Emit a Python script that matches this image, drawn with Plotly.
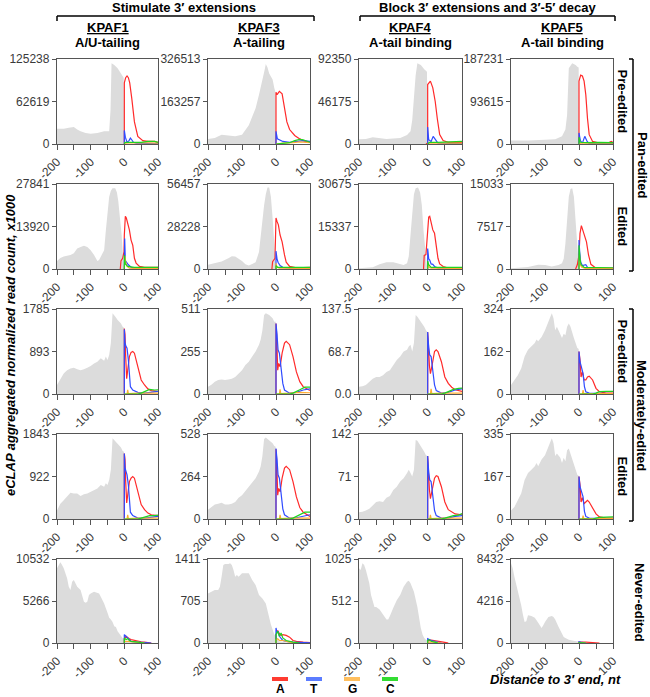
import plotly.graph_objects as go

# ---------------- data (values read as % of each panel's top tick) ----------------
COLUMNS = ["KPAF1", "KPAF3", "KPAF4", "KPAF5"]
COLUMN_ROLES = ["A/U-tailing", "A-tailing", "A-tail binding", "A-tail binding"]
GROUPS = ["Stimulate 3′ extensions", "Block 3′ extensions and 3′-5′ decay"]
ROW_LABELS = ["Pre-edited", "Edited", "Pre-edited", "Edited", "Never-edited"]
ROW_GROUPS = ["Pan-edited", "Moderately-edited"]
NUCLEOTIDES = ["A", "T", "G", "C"]
X_TICKS = [-200, -150, -100, -50, 0, 50, 100]
X_TICK_TEXT = ["-200", "", "-100", "", "0", "", "100"]

# y tick labels per panel (top, middle, zero)
YT_R1 = [("125238", "62619", "0"), ("326513", "163257", "0"), ("92350", "46175", "0"), ("187231", "93615", "0")]
YT_R2 = [("27841", "13920", "0"), ("56457", "28228", "0"), ("30675", "15337", "0"), ("15033", "7517", "0")]
YT_R3 = [("1785", "893", "0"), ("511", "255", "0"), ("137.5", "68.7", "0.0"), ("324", "162", "0")]
YT_R4 = [("1843", "922", "0"), ("528", "264", "0"), ("142", "71", "0"), ("335", "167", "0")]
YT_R5 = [("10532", "5266", "0"), ("1411", "705", "0"), ("1025", "512", "0"), ("8432", "4216", "0")]

# ---- row 1: pan-edited, pre-edited ----
P11_GREY = [(-200,18),(-180,18),(-165,19),(-150,20),(-140,17),(-130,15),(-115,13),(-100,12),(-80,13),(-60,15),(-45,15),(-41,40),(-38,95),(-30,93),(-20,89),(-10,83),(-2,78),(0,0)]
P11_A = [(0,0),(0,72),(4,78),(8,80),(12,78),(16,72),(22,54),(30,26),(40,9),(55,4),(70,3),(90,3),(100,2)]
P11_T = [(0,0),(0,16),(3,8),(8,2),(14,4),(18,7),(22,5),(27,2),(35,1),(60,1),(100,0.5)]
P11_G = [(0,0),(2,1),(30,1.5),(60,1.5),(100,1)]
P11_C = [(0,0),(2,2),(20,2),(50,2),(70,3),(90,3),(100,2)]

P12_GREY = [(-200,6),(-180,7),(-160,11),(-140,10),(-120,9),(-100,11),(-90,17),(-80,22),(-70,32),(-60,42),(-50,58),(-40,74),(-33,88),(-30,94),(-25,90),(-20,83),(-10,76),(-5,66),(-1,60),(0,0)]
P12_A = [(0,0),(0,61),(3,58),(10,62),(18,59),(25,42),(32,26),(40,17),(55,10),(70,6),(85,3),(100,2)]
P12_T = [(0,0),(0,15),(4,6),(10,5),(20,3),(40,2),(60,3),(80,4),(100,3)]
P12_G = [(0,0),(20,1),(50,1.5),(70,2.5),(90,2),(100,1.5)]
P12_C = [(0,0),(20,1),(40,1.5),(55,4),(70,5.5),(80,5),(100,2)]

P13_GREY = [(-200,5.5),(-180,6),(-160,8),(-140,7),(-120,6),(-100,6.5),(-80,7),(-60,10.5),(-50,15),(-45,28),(-40,54),(-35,81),(-30,95),(-20,93),(-10,88),(-2,85),(0,0)]
P13_A = [(-5,0),(0,1),(0,70),(3,72),(8,74),(15,66),(22,50),(28,30),(35,11),(45,4),(60,2),(100,2)]
P13_T = [(0,0),(0,20),(3,5),(10,3),(16,9),(22,5),(30,1),(60,0.5),(100,0.5)]
P13_G = [(0,0),(5,1),(50,1),(100,1)]
P13_C = [(0,0),(5,2),(30,2),(60,2.5),(100,3)]

P14_GREY = [(-200,4),(-150,4),(-100,5),(-70,5.5),(-50,9),(-40,17),(-35,34),(-30,89),(-20,95),(-10,93),(-5,91),(-1,90),(0,0)]
P14_A = [(0,0),(0,74),(5,81),(10,80),(15,74),(20,58),(25,30),(30,11),(40,3),(60,1),(85,1),(95,3),(100,2)]
P14_T = [(0,0),(0,13),(4,4),(10,1),(17,9),(24,3),(30,0.5),(100,0.5)]
P14_G = [(0,0),(5,1),(100,1)]
P14_C = [(0,0),(0,8),(4,2),(20,1.5),(60,2),(100,1.5)]

# ---- row 2: pan-edited, edited ----
P21_GREY = [(-200,9.5),(-190,13),(-180,14.6),(-160,16.5),(-150,18.5),(-140,24),(-130,26),(-120,27.5),(-110,26),(-100,22),(-90,16.5),(-80,9.5),(-75,10.6),(-70,14),(-60,22),(-55,45),(-50,70),(-45,85),(-40,92),(-35,95),(-27,95),(-22,90),(-18,80),(-12,60),(-8,40),(-4,15),(0,0)]
P21_A = [(-12,0),(-10,9.5),(-5,12.6),(-1,20),(0,40),(3,62),(6,60),(10,54),(15,46),(20,34),(25,28),(30,12.6),(35,7),(45,3),(60,2),(100,2)]
P21_T = [(0,0),(1,36),(3,10),(6,8),(12,5),(20,2),(30,1),(60,0.5),(100,0.5)]
P21_G = [(0,0),(2,15),(4,8),(8,3),(15,1),(40,0.5),(100,0.5)]
P21_C = [(0,0),(0,16.5),(3,6),(10,3),(30,2),(60,2),(100,2)]

P22_GREY = [(-200,5),(-180,6.7),(-160,8.7),(-140,12.6),(-130,15),(-120,14.6),(-110,12),(-100,9.5),(-90,5.5),(-80,4),(-70,6),(-60,8),(-50,20),(-45,40),(-40,60),(-35,75),(-30,88),(-25,96),(-20,96),(-15,85),(-10,60),(-5,25),(0,0)]
P22_A = [(-12,0),(-10,8.7),(-3,12.6),(0,60),(3,56),(7,52),(12,40),(18,32),(25,16.5),(30,8),(40,3),(60,1.5),(100,2)]
P22_T = [(0,0),(0,21),(3,12),(6,8),(12,4),(20,2),(40,1),(100,1)]
P22_G = [(0,0),(0,6.7),(3,2),(10,1),(100,0.5)]
P22_C = [(0,0),(0,4),(5,2),(40,2),(70,2),(100,2)]

P23_GREY = [(-200,1),(-160,2),(-140,5.5),(-120,8),(-100,8),(-80,5.5),(-70,4.7),(-60,6.7),(-55,15),(-50,40),(-45,70),(-40,88),(-35,95),(-28,96),(-22,90),(-17,75),(-12,45),(-7,20),(-3,6),(0,0)]
P23_A = [(-12,0),(-10,16),(-5,17),(0,48),(3,61),(6,62),(10,56),(15,46),(20,42),(25,28),(30,12.6),(35,6),(45,3),(60,1),(100,1)]
P23_T = [(0,0),(0,24),(3,12),(6,10.6),(10,6),(15,5.5),(20,3),(30,1),(100,0.5)]
P23_G = [(0,0),(1,5),(4,2),(10,1),(100,0.5)]
P23_C = [(0,0),(0,9.5),(3,5),(10,2),(30,2),(100,2)]

P24_GREY = [(-200,1),(-150,2.5),(-120,5),(-100,4.7),(-80,3),(-60,4.7),(-50,6.7),(-45,12),(-40,30),(-35,65),(-30,85),(-25,94),(-20,95),(-15,85),(-10,60),(-5,30),(-2,12),(0,0)]
P24_A = [(-10,0),(-5,5),(0,16.5),(3,42),(7,51),(12,45),(18,38),(22,32),(28,16.5),(35,5.5),(50,1),(100,1)]
P24_T = [(0,0),(0,34),(2,20),(5,8),(10,4),(20,5),(25,2),(40,0.5),(100,0.5)]
P24_G = [(0,0),(1,16.5),(4,5),(8,2),(20,0.5),(100,0.5)]
P24_C = [(0,0),(0,28),(3,12),(6,5),(15,2),(50,1.5),(100,1.5)]

# ---- row 3: moderately-edited, pre-edited ----
P31_GREY = [(-200,10.6),(-190,18),(-180,24),(-170,28),(-160,30),(-150,31),(-140,29),(-130,28),(-120,29),(-110,31),(-100,33),(-90,36),(-80,38),(-70,42),(-60,39),(-55,44),(-50,40),(-45,46),(-40,60),(-35,95),(-30,93),(-25,90),(-20,87),(-15,85),(-10,83),(-5,79),(-1,78),(0,0)]
P31_A = [(0,0),(0,77),(2,70),(4,44),(7,18),(10,28),(15,44),(20,49),(25,50),(30,48),(35,40),(40,30),(50,16.5),(60,10.6),(70,6),(80,4),(100,3)]
P31_T = [(0,0),(0,76),(2,60),(5,56),(8,54),(12,40),(15,22),(18,8.6),(25,4.7),(40,2),(60,1),(80,2),(100,3)]
P31_G = [(0,0),(8,0),(10,5),(12,0.5),(40,1),(100,1)]
P31_C = [(0,0),(40,0),(50,1),(60,3),(75,5.5),(90,4.7),(100,5)]

P32_GREY = [(-200,8.6),(-190,11),(-180,14.5),(-170,16.5),(-160,17),(-150,16.5),(-140,17),(-130,18),(-120,20),(-110,24),(-100,28),(-90,34),(-80,38),(-70,44),(-60,50),(-50,58),(-45,64),(-40,75),(-35,93),(-30,95),(-20,93),(-10,89),(-5,85),(-1,85),(0,0)]
P32_A = [(0,0),(0,83),(2,70),(5,28),(8,36),(12,32),(18,48),(25,60),(30,62),(40,58),(50,44),(60,26),(70,14.5),(80,8.6),(90,6),(100,4)]
P32_T = [(0,0),(0,83),(3,70),(6,52),(10,48),(15,32),(20,12.5),(25,4.7),(40,1),(60,2),(80,4.7),(100,6)]
P32_G = [(0,0),(10,0),(12,5.5),(14,0.5),(40,1),(70,2),(100,1.5)]
P32_C = [(0,0),(40,0),(50,1),(60,2.7),(70,5),(85,8),(100,8)]

P33_GREY = [(-200,8.6),(-190,9),(-180,10.6),(-170,14.5),(-160,18),(-150,20),(-140,20),(-130,22),(-120,26),(-110,28),(-100,34),(-90,40),(-80,44),(-70,50),(-60,52),(-55,56),(-50,58),(-45,50),(-40,60),(-35,93),(-30,91),(-25,88),(-20,85),(-15,83),(-10,79),(-5,75),(-1,73),(0,0)]
P33_A = [(0,0),(0,73),(2,60),(5,34),(8,24),(12,32),(16,44),(20,50),(25,52),(30,50),(40,38),(50,20),(60,12.5),(70,8),(80,5),(100,3)]
P33_T = [(0,0),(0,73),(3,55),(6,46),(10,44),(15,28),(20,10.6),(25,4),(40,1),(60,2),(80,4.7),(100,6)]
P33_G = [(0,0),(8,0),(10,6),(12,0.5),(40,1),(100,1)]
P33_C = [(0,0),(40,0),(50,1),(60,2.7),(75,5.5),(90,6.7),(100,7)]

P34_GREY = [(-200,10.6),(-190,16.5),(-180,22),(-170,30),(-160,44),(-150,52),(-140,56),(-130,60),(-125,64),(-120,62),(-110,67),(-100,75),(-90,85),(-80,95),(-75,89),(-70,75),(-65,79),(-60,75),(-55,71),(-50,66),(-45,71),(-40,69),(-35,79),(-30,83),(-25,79),(-20,71),(-15,66),(-10,60),(-5,54),(-1,53),(0,0)]
P34_A = [(0,0),(0,50),(3,40),(6,20),(10,26),(15,16.5),(20,16.5),(25,20),(30,21),(40,16.5),(50,6.7),(60,2.7),(80,1),(100,1)]
P34_T = [(0,0),(0,50),(3,38),(7,32),(12,24),(16,8.6),(20,2.7),(30,1),(100,0.5)]
P34_G = [(0,0),(10,0),(12,4.7),(14,0.5),(100,0.5)]
P34_C = [(0,0),(40,0),(50,1),(60,2.7),(80,3),(100,3)]

# ---- row 4: moderately-edited, edited ----
P41_GREY = [(-200,10),(-190,18),(-180,22),(-170,27),(-160,31),(-150,30),(-140,30),(-130,27),(-120,29),(-110,30),(-100,32),(-90,34),(-80,36),(-70,40),(-60,38),(-55,42),(-50,40),(-45,46),(-40,58),(-35,95),(-30,93),(-20,88),(-10,84),(-5,80),(-1,79),(0,0)]
P41_A = [(0,0),(0,77),(2,70),(4,44),(7,19),(10,28),(15,44),(20,48),(25,50),(30,48),(35,40),(40,31),(50,17),(60,11),(70,7),(80,5),(100,4)]
P41_T = [(0,0),(0,77),(2,60),(5,56),(8,52),(12,40),(15,22),(18,8),(25,4),(40,1),(60,1),(80,2),(100,3)]
P41_G = [(0,0),(8,0),(10,5),(12,0.5),(40,1),(100,1)]
P41_C = [(0,0),(40,0),(50,1),(60,2.5),(75,4),(90,4),(100,4.5)]

P42_GREY = [(-200,11),(-190,14),(-180,17),(-170,18),(-160,19),(-150,17),(-140,17),(-130,18),(-120,20),(-110,25),(-100,28),(-90,33),(-80,38),(-70,43),(-60,48),(-50,56),(-45,62),(-40,74),(-35,94),(-30,96),(-20,93),(-10,89),(-5,86),(-1,85),(0,0)]
P42_A = [(0,0),(0,82),(2,70),(5,28),(8,36),(12,32),(18,48),(25,60),(30,62),(40,58),(50,44),(60,26),(70,13.5),(80,8),(90,5),(100,3)]
P42_T = [(0,0),(0,83),(3,70),(6,52),(10,48),(15,32),(20,12),(25,5),(40,1),(60,1.5),(80,3),(100,5)]
P42_G = [(0,0),(10,0),(12,5),(14,0.5),(40,1),(100,1)]
P42_C = [(0,0),(40,0),(50,1),(60,3),(70,5),(85,8),(100,8)]

P43_GREY = [(-200,8),(-190,8.5),(-180,10),(-170,12),(-160,16),(-150,20),(-140,21),(-130,20),(-120,25),(-110,27),(-100,34),(-90,38),(-80,44),(-70,48),(-60,54),(-55,58),(-50,54),(-45,50),(-40,58),(-35,93),(-30,92),(-25,89),(-20,86),(-15,83),(-10,79),(-5,75),(-1,74),(0,0)]
P43_A = [(0,0),(0,74),(2,60),(5,35),(8,24),(12,32),(16,43),(20,48),(25,51),(30,50),(40,38),(50,20),(60,11),(70,8),(80,6),(100,5)]
P43_T = [(0,0),(0,74),(3,55),(6,46),(10,44),(15,28),(20,10),(25,4),(40,1),(60,1),(80,3),(100,4)]
P43_G = [(0,0),(6,0),(8,5),(10,0.5),(40,1),(100,1)]
P43_C = [(0,0),(40,0),(50,1),(60,2),(75,4),(90,4.5),(100,6.5)]

P44_GREY = [(-200,10),(-190,14),(-180,22),(-170,30),(-160,46),(-150,54),(-140,58),(-130,62),(-125,66),(-120,62),(-110,70),(-100,75),(-90,85),(-80,95),(-75,89),(-70,74),(-65,77),(-60,75),(-55,72),(-50,66),(-45,72),(-40,68),(-35,81),(-30,83),(-25,77),(-20,70),(-15,64),(-10,58),(-5,52),(-1,51),(0,0)]
P44_A = [(0,0),(0,50),(3,40),(6,20),(10,25),(15,18),(20,20),(25,22),(30,20),(40,13),(50,6),(60,2.5),(80,1),(100,1)]
P44_T = [(0,0),(0,50),(3,38),(7,32),(12,26),(16,9),(20,3),(30,1),(100,0.5)]
P44_G = [(0,0),(10,0),(12,4),(14,0.5),(100,0.5)]
P44_C = [(0,0),(40,0),(50,1),(60,2),(100,2.5)]

# ---- row 5: never-edited ----
P51_GREY = [(-200,89),(-195,93),(-190,96),(-185,93),(-180,89),(-170,77),(-165,67),(-160,63),(-155,73),(-150,75),(-145,71),(-140,67),(-130,63),(-125,57),(-120,49),(-115,48),(-110,49),(-105,57),(-100,59),(-90,61),(-80,60),(-75,59),(-70,55),(-60,47),(-50,36),(-45,30),(-40,28),(-35,25),(-30,20),(-25,19),(-20,14),(-15,11),(-10,8),(-5,5),(0,3),(5,2),(10,1),(20,0.5),(40,0)]
P51_A = [(0,0),(0,5),(5,8),(10,6),(15,5),(20,4),(30,3),(40,2),(50,1.5),(60,1),(70,0.5),(80,0)]
P51_T = [(0,0),(0,10),(5,8),(10,6),(15,3),(20,2),(40,1),(60,0.5),(80,0)]
P51_G = [(0,0),(0,2),(10,2),(30,1.5),(50,0.5),(60,0)]
P51_C = [(0,0),(0,6),(5,4),(10,5),(15,3),(20,2),(40,1),(60,0)]

P52_GREY = [(-200,59),(-190,61),(-180,63),(-170,63),(-165,67),(-160,79),(-155,93),(-150,94),(-140,94),(-135,95),(-130,93),(-125,87),(-120,79),(-115,81),(-110,79),(-100,83),(-90,83),(-80,83),(-70,75),(-60,69),(-50,57),(-40,53),(-30,47),(-25,38),(-20,30),(-15,22),(-10,16),(-5,10),(0,8),(5,4),(10,2),(20,1),(30,0.5),(50,0)]
P52_A = [(0,0),(0,10),(5,15),(10,11),(15,9),(20,10),(30,9),(40,7),(50,3),(60,2),(80,1),(100,0.5)]
P52_T = [(0,0),(0,18),(3,12),(6,14),(10,8),(15,5),(20,3),(30,2),(50,1),(100,0.3)]
P52_G = [(0,0),(0,4),(5,5),(10,3),(20,3),(40,1),(60,0)]
P52_C = [(0,0),(0,10),(5,14),(10,8),(15,12),(20,6),(30,3),(50,1),(70,0)]

P53_GREY = [(-200,89),(-195,87),(-190,95),(-185,93),(-180,87),(-170,71),(-165,57),(-160,49),(-155,43),(-150,43),(-140,40),(-130,34),(-120,28),(-115,28),(-110,32),(-100,42),(-90,51),(-80,57),(-70,67),(-60,73),(-55,74),(-50,71),(-40,61),(-30,43),(-25,30),(-20,18),(-15,10),(-10,6),(-5,4),(0,3),(10,1.5),(30,0.5),(50,0)]
P53_A = [(0,0),(0,3),(10,3.5),(20,3),(30,2.5),(40,2),(50,0.8),(60,0)]
P53_T = [(0,0),(0,5),(5,4),(10,3),(20,2),(30,1),(40,0)]
P53_G = [(0,0),(0,1),(20,1),(40,0)]
P53_C = [(0,0),(0,3),(5,4),(10,2),(20,1),(30,0)]

P54_GREY = [(-200,95),(-195,89),(-190,79),(-180,63),(-170,45),(-165,34),(-160,25),(-155,26),(-150,33),(-140,32),(-130,30),(-120,24),(-110,18),(-105,21),(-100,25),(-90,31),(-80,32),(-75,31),(-70,28),(-60,19),(-50,12),(-45,7),(-40,6),(-30,4),(-20,3),(-10,2),(0,1.5),(20,0.5),(40,0)]
P54_A = [(0,0),(0,1),(20,1),(40,1),(50,0.3),(60,0)]
P54_T = [(0,0),(0,1.5),(5,1),(10,0.5),(20,0)]
P54_G = [(0,0),(0,0.3),(20,0)]
P54_C = [(0,0),(0,0.5),(10,0.3),(20,0)]

PANELS = [
    [(P11_GREY, P11_A, P11_T, P11_G, P11_C), (P12_GREY, P12_A, P12_T, P12_G, P12_C), (P13_GREY, P13_A, P13_T, P13_G, P13_C), (P14_GREY, P14_A, P14_T, P14_G, P14_C)],
    [(P21_GREY, P21_A, P21_T, P21_G, P21_C), (P22_GREY, P22_A, P22_T, P22_G, P22_C), (P23_GREY, P23_A, P23_T, P23_G, P23_C), (P24_GREY, P24_A, P24_T, P24_G, P24_C)],
    [(P31_GREY, P31_A, P31_T, P31_G, P31_C), (P32_GREY, P32_A, P32_T, P32_G, P32_C), (P33_GREY, P33_A, P33_T, P33_G, P33_C), (P34_GREY, P34_A, P34_T, P34_G, P34_C)],
    [(P41_GREY, P41_A, P41_T, P41_G, P41_C), (P42_GREY, P42_A, P42_T, P42_G, P42_C), (P43_GREY, P43_A, P43_T, P43_G, P43_C), (P44_GREY, P44_A, P44_T, P44_G, P44_C)],
    [(P51_GREY, P51_A, P51_T, P51_G, P51_C), (P52_GREY, P52_A, P52_T, P52_G, P52_C), (P53_GREY, P53_A, P53_T, P53_G, P53_C), (P54_GREY, P54_A, P54_T, P54_G, P54_C)],
]
Y_TICKS = [YT_R1, YT_R2, YT_R3, YT_R4, YT_R5]

# ---------------- styling / layout ----------------
W, H = 650, 697
FONT = "Liberation Sans, Arial, sans-serif"
GREY_FILL = "#dcdcdc"
NT_COLORS = {"A": "#ff2a2a", "T": "#2f4bff", "G": "#ffad33", "C": "#1fd41f"}
LEGEND_COLORS = {"A": "#ff3b30", "T": "#5b7cff", "G": "#ffbf5e", "C": "#33dd33"}
AXIS_COLOR = "#555555"
TEXT_COLOR = "#3a3a3a"

COL_PX = [(57, 158), (208, 310), (359, 462), (511, 613)]
ROW_PX = [(59, 144), (184, 269), (309, 394), (434, 519), (559, 643)]


def fx(p):
    return p / W


def fy(p):
    return 1 - p / H


fig = go.Figure()
layout = dict(
    width=W, height=H, margin=dict(l=0, r=0, t=0, b=0, autoexpand=False),
    paper_bgcolor="white", plot_bgcolor="white", showlegend=False,
    font=dict(family=FONT, size=12, color=TEXT_COLOR),
)

idx = 0
for r in range(5):
    for c in range(4):
        idx += 1
        sfx = "" if idx == 1 else str(idx)
        xa, ya = "x" + sfx, "y" + sfx
        grey, *lines = PANELS[r][c]
        fig.add_trace(go.Scatter(
            x=[p[0] for p in grey], y=[p[1] for p in grey], mode="lines",
            fill="tozeroy", fillcolor=GREY_FILL, line=dict(width=0, color=GREY_FILL),
            xaxis=xa, yaxis=ya, hoverinfo="skip"))
        for nt, series in zip(NUCLEOTIDES, lines):
            fig.add_trace(go.Scatter(
                x=[p[0] for p in series], y=[p[1] for p in series], mode="lines",
                line=dict(width=1.2, color=NT_COLORS[nt]), xaxis=xa, yaxis=ya,
                hoverinfo="skip"))
        top, mid, zero = Y_TICKS[r][c]
        x0, x1 = COL_PX[c]
        y0, y1 = ROW_PX[r]
        layout["xaxis" + sfx] = dict(
            domain=[fx(x0), fx(x1)], anchor=ya, range=[-200, 100], automargin=False,
            tickvals=X_TICKS, ticktext=X_TICK_TEXT, tickangle=-45,
            ticks="outside", ticklen=5, tickwidth=1, tickcolor=AXIS_COLOR,
            showline=True, linecolor=AXIS_COLOR, linewidth=1.3, mirror=True,
            showgrid=False, zeroline=False,
            tickfont=dict(family=FONT, size=12, color=TEXT_COLOR))
        layout["yaxis" + sfx] = dict(
            domain=[fy(y1), fy(y0)], anchor=xa, range=[0, 100], automargin=False,
            tickvals=[0, 50, 100], ticktext=[zero, mid, top],
            ticks="outside", ticklen=4, tickwidth=1, tickcolor=AXIS_COLOR,
            showline=True, linecolor=AXIS_COLOR, linewidth=1.3, mirror=True,
            showgrid=False, zeroline=False,
            tickfont=dict(family=FONT, size=12, color=TEXT_COLOR))

ann = []
shapes = []


def text(x, y, s, size=13, angle=0, color="black", xanchor="center"):
    ann.append(dict(x=fx(x), y=fy(y), xref="paper", yref="paper", text=s,
                    showarrow=False, textangle=angle, xanchor=xanchor, yanchor="middle",
                    font=dict(family=FONT, size=size, color=color)))


def line(x0, y0, x1, y1, color="black", width=1.5):
    shapes.append(dict(type="line", xref="paper", yref="paper",
                       x0=fx(x0), y0=fy(y0), x1=fx(x1), y1=fy(y1),
                       line=dict(color=color, width=width)))


# group headers + brackets
text(184, 8, "<b>" + GROUPS[0] + "</b>")
text(487, 8, "<b>" + GROUPS[1] + "</b>")
for (xa_, xb_) in [(57, 314), (360, 615)]:
    line(xa_, 16, xb_, 16)
    line(xa_, 16, xa_, 21)
    line(xb_, 16, xb_, 21)

# column titles
for c in range(4):
    cx = (COL_PX[c][0] + COL_PX[c][1]) / 2
    text(cx, 28, "<b><u>" + COLUMNS[c] + "</u></b>")
    text(cx, 43, "<b>" + COLUMN_ROLES[c] + "</b>")

# right row labels
for r in range(5):
    cy = (ROW_PX[r][0] + ROW_PX[r][1]) / 2
    if r < 4:
        text(622, cy, "<b>" + ROW_LABELS[r] + "</b>", angle=90)
    else:
        text(640, cy + 1, "<b>" + ROW_LABELS[r] + "</b>", angle=90)
for g, (ya_, yb_) in enumerate([(59, 271), (309, 521)]):
    line(633, ya_, 633, yb_)
    line(629, ya_, 633, ya_)
    line(629, yb_, 633, yb_)
    text(642, (ya_ + yb_) / 2, "<b>" + ROW_GROUPS[g] + "</b>", angle=90)

# axis titles
text(10, 345, "<b><i>eCLAP aggregated normalized read count, x1000</i></b>", angle=-90)
text(555, 679, "<b><i>Distance to 3′ end, nt</i></b>")

# nucleotide legend
LEG_X = [280, 314, 352, 390]
for nt, lx in zip(NUCLEOTIDES, LEG_X):
    line(lx - 8, 679, lx + 8, 679, color=LEGEND_COLORS[nt], width=4)
    text(lx, 689, "<b>" + nt + "</b>", size=12)

layout["annotations"] = ann
layout["shapes"] = shapes
fig.update_layout(**layout)
fig.write_html(
    "out.html",
    config={"displayModeBar": False},
    post_script="document.body.style.margin='0px';document.body.style.padding='0px';",
)
